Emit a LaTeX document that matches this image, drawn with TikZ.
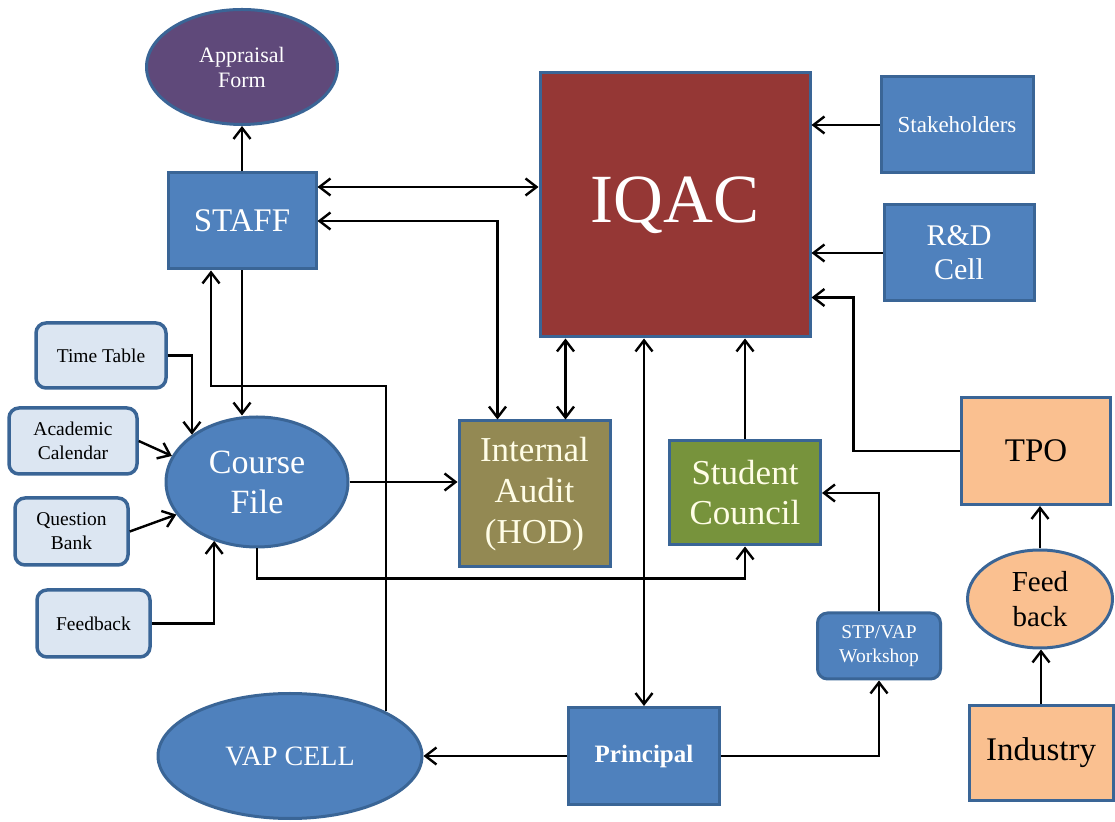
\documentclass[tikz,border=0pt]{standalone}
\usepackage{fontspec}
\setmainfont{Liberation Serif}
\usetikzlibrary{shapes.geometric, arrows.meta}

\definecolor{unitblue}{HTML}{4F81BD}
\definecolor{edgeblue}{HTML}{3A6596}
\definecolor{iqacred}{HTML}{953735}
\definecolor{formpurple}{HTML}{5F497A}
\definecolor{auditolive}{HTML}{938953}
\definecolor{councilgreen}{HTML}{77933C}
\definecolor{outpeach}{HTML}{FAC090}
\definecolor{inputpale}{HTML}{DCE6F2}
\definecolor{cream}{HTML}{FFFDE6}

\newcommand{\txtsize}[2]{\fontsize{#1pt}{#2pt}\selectfont}

\tikzset{
    unitbox/.style={draw=edgeblue, line width=3pt, fill=unitblue, text=white,
        rectangle, inner sep=0pt, align=center},
    unitoval/.style={unitbox, ellipse},
    inputbox/.style={draw=edgeblue, line width=3.5pt, fill=inputpale, text=black,
        rounded corners=10pt, inner sep=0pt, align=center, font=\txtsize{19.5}{24}},
    flow/.style={line width=2.4pt, -{Straight Barb[length=11pt,width=17pt]}},
    flowboth/.style={line width=2.4pt,
        {Straight Barb[length=11pt,width=17pt]}-{Straight Barb[length=11pt,width=17pt]}}
}

\begin{document}
\begin{tikzpicture}[x=1pt, y=1pt]
    \useasboundingbox (0,0) rectangle (1115,821);

    % Staff, appraisal and IQAC
    \node[unitoval, fill=formpurple, minimum width=191pt, minimum height=115pt,
        font=\txtsize{22}{25}] (appraisal) at (242,754) {Appraisal\\Form};
    \node[unitbox, minimum width=148pt, minimum height=96pt,
        font=\txtsize{33}{38}] (staff) at (242,600) {STAFF};
    \node[unitbox, fill=iqacred, minimum width=270pt, minimum height=264pt,
        font=\txtsize{69}{76}] (iqac) at (675,616) {IQAC};
    \node[unitbox, minimum width=152pt, minimum height=96pt,
        font=\txtsize{23}{27}] (stake) at (957,696) {Stakeholders};
    \node[unitbox, minimum width=150pt, minimum height=96pt,
        font=\txtsize{30}{34}] (rnd) at (959,568) {R\&D\\Cell};

    % Course file and its inputs
    \node[unitoval, minimum width=182pt, minimum height=130pt,
        font=\txtsize{34}{40}] (course) at (257,339) {Course\\File};
    \node[inputbox, minimum width=130pt, minimum height=65pt] (timetable) at (101,465.5) {Time Table};
    \node[inputbox, minimum width=128pt, minimum height=66pt] (calendar) at (73,380) {Academic\\Calendar};
    \node[inputbox, minimum width=113pt, minimum height=67pt] (qbank) at (71.5,289.5) {Question\\Bank};
    \node[inputbox, minimum width=113pt, minimum height=67pt] (feedback) at (93.5,197.5) {Feedback};

    % Audit and council
    \node[unitbox, fill=auditolive, text=cream, minimum width=151pt, minimum height=146pt,
        font=\txtsize{35}{41}] (audit) at (534.5,327) {Internal\\Audit\\(HOD)};
    \node[unitbox, fill=councilgreen, text=cream, minimum width=151pt, minimum height=104pt,
        font=\txtsize{35}{40}] (council) at (745,328) {Student\\Council};

    % Placement side
    \node[unitbox, fill=outpeach, text=black, minimum width=149pt, minimum height=107pt,
        font=\txtsize{33}{38}] (tpo) at (1036,370) {TPO};
    \node[unitoval, fill=outpeach, text=black, minimum width=145pt, minimum height=98pt,
        font=\txtsize{29}{35}] (fback) at (1040,222) {Feed\\back};
    \node[unitbox, fill=outpeach, text=black, minimum width=144pt, minimum height=94pt,
        font=\txtsize{33}{38}] (industry) at (1041,68) {Industry};

    % Bottom row
    \node[unitbox, minimum width=151pt, minimum height=97pt,
        font=\bfseries\txtsize{25}{30}] (principal) at (644,65) {Principal};
    \node[unitoval, minimum width=264pt, minimum height=125pt,
        font=\txtsize{28}{32}] (vap) at (290,65) {VAP CELL};
    \node[unitbox, rounded corners=10pt, minimum width=123pt, minimum height=66pt,
        font=\txtsize{19.5}{24}] (stp) at (879,175) {STP/VAP\\Workshop};

    % Staff links
    \draw[flow] (staff.north) -- (appraisal.south);
    \draw[flowboth] ([yshift=34pt]staff.east) -- ([yshift=34pt]staff.east -| iqac.west);
    \draw[flowboth] (staff.east) -| ([xshift=40pt]audit.north west);
    \draw[flow] (staff.south) -- (staff.south |- course.north);
    \coordinate (vapturn) at (211,435);
    \draw[flow] (vap.25) |- (vapturn) -- (vapturn |- staff.south);

    % Inputs into the course file
    \draw[flow] (timetable.east) -| (course.144);
    \draw[flow] (calendar.east) -- (course.163);
    \draw[flow] (qbank.east) -- (course.202);
    \draw[flow] (feedback.east) -| (course.234);

    % Course file outputs
    \draw[flow] (course.east) -- (course.east -| audit.west);
    \draw[flow] (course.south) -- ++(0,-30) -| (council.south);

    % Into IQAC
    \draw[flowboth] ([xshift=31pt]audit.north) -- ([xshift=31pt]audit.north |- iqac.south);
    \draw[flowboth] (principal.north) -- (principal.north |- iqac.south);
    \draw[flow] (council.north) -- (council.north |- iqac.south);
    \draw[flow] (stake.west) -- (stake.west -| iqac.east);
    \draw[flow] (rnd.west) -- (rnd.west -| iqac.east);
    \draw[flow] (tpo.west) -| ([shift={(42pt,41pt)}]iqac.south east) -- ([yshift=41pt]iqac.south east);

    % Principal and placement links
    \draw[flow] (principal.west) -- (principal.west -| vap.east);
    \draw[flow] (principal.east) -| (stp.south);
    \draw[flow] (stp.north) |- (council.east);
    \draw[flow] (industry.north) -- (industry.north |- fback.south);
    \draw[flow] (fback.north) -- (fback.north |- tpo.south);
\end{tikzpicture}
\end{document}
